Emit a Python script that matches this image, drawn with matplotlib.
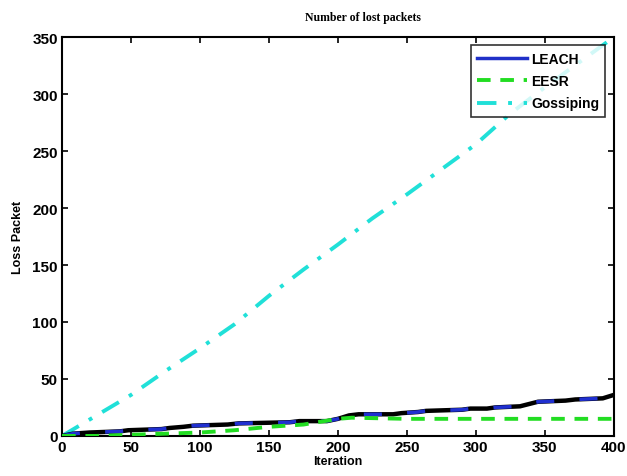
import matplotlib
matplotlib.use("Agg")
import matplotlib.pyplot as plt

plt.rcParams['font.family'] = ['Liberation Sans', 'DejaVu Sans']

# Gossiping (roughly linear)
goss_x = [0, 25, 50, 75, 100, 125, 150, 175, 200, 225, 250, 275, 300, 325, 350, 375, 400]
goss_y = [0, 18, 36, 57, 77, 98, 123, 146, 168, 191, 212, 234, 256, 283, 306, 328, 350]

# EESR
eesr_x = [0, 25, 50, 75, 100, 125, 150, 175, 190, 200, 210, 250, 300, 350, 400]
eesr_y = [0, 0, 1, 2, 3, 5, 8, 10, 13, 15, 16, 15, 15, 15, 15]

# LEACH (stair-like with short ramps)
leach_x = [0, 8, 20, 42, 48, 72, 78, 88, 95, 120, 128, 165, 172, 192, 200, 208, 215,
           240, 246, 258, 264, 290, 296, 308, 314, 332, 345, 365, 372, 392, 400]
leach_y = [0, 2, 3, 4, 5, 6, 7, 8, 9, 10, 11, 12, 13, 13, 15, 18, 19,
           19, 20, 21, 22, 23, 24, 24, 25, 26, 30, 31, 32, 33, 36]

fig = plt.figure(figsize=(6.27, 4.77), dpi=100)
ax = fig.add_axes([0.099, 0.084, 0.880, 0.836])

ax.plot(leach_x, leach_y, color='black', lw=3.2, zorder=3)
ax.plot(leach_x, leach_y, color='#2030d0', lw=2.6, dashes=(5, 7), zorder=4)
ax.plot([], [], color='#2030c8', lw=2.5, label='LEACH')
ax.plot(eesr_x, eesr_y, color='#22dd22', lw=2.8, dashes=(3.5, 2.5), label='EESR', zorder=5)
ax.plot(goss_x, goss_y, color='#20e0d8', lw=2.8, dashes=(5, 3, 1, 3), label='Gossiping', zorder=2)

ax.set_xlim(0, 400)
ax.set_ylim(0, 350)
ax.set_xticks(range(0, 401, 50))
ax.set_yticks(range(0, 351, 50))
ax.tick_params(direction='in', top=True, right=True, length=4, width=1.2,
               labelsize=11, pad=3)
for lab in ax.get_xticklabels() + ax.get_yticklabels():
    lab.set_fontweight('bold')
for s in ax.spines.values():
    s.set_linewidth(1.5)

ax.set_xlabel('Iteration', fontsize=9, fontweight='bold', labelpad=1)
ax.set_ylabel('Loss Packet', fontsize=9, fontweight='bold', labelpad=6)
ax.set_title('Number of lost packets', fontsize=8.5, fontweight='bold',
             family='Liberation Serif', x=0.545, pad=12)

leg = ax.legend(loc='upper right', fontsize=10, frameon=True, fancybox=False,
                edgecolor='black', borderaxespad=0.6, handlelength=3.6,
                labelspacing=0.6, borderpad=0.45, handletextpad=0.3)
leg.set_zorder(10)
leg.get_frame().set_linewidth(1.2)
for t in leg.get_texts():
    t.set_fontweight('bold')

fig.savefig('out.png', dpi=100)
